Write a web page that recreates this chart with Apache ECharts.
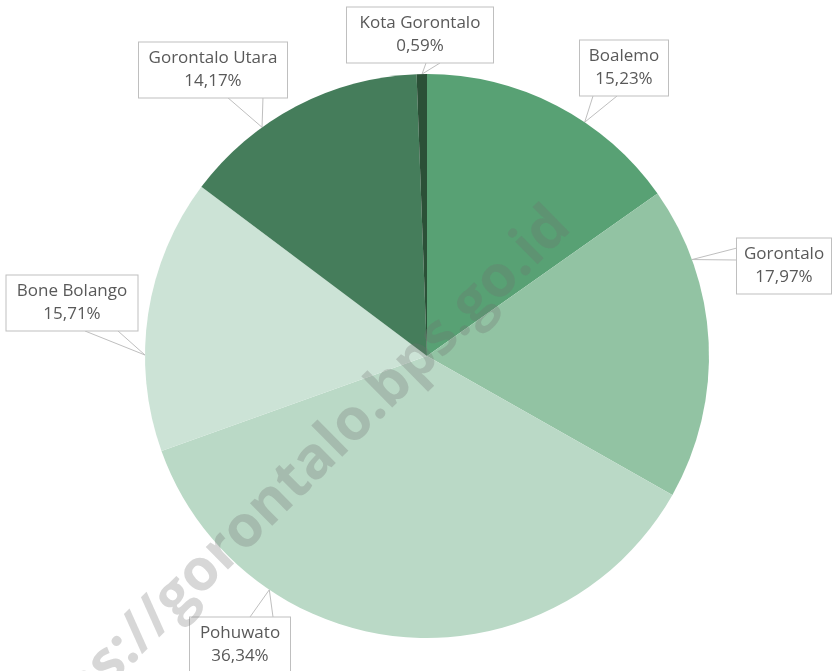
<!DOCTYPE html>
<html>
<head>
<meta charset="utf-8">
<script src="https://cdn.jsdelivr.net/npm/echarts@6/dist/echarts.min.js"></script>
<style>
  html, body { margin: 0; padding: 0; background: #fff; }
  #chart { width: 832px; height: 671px; }
</style>
</head>
<body>
<div id="chart"></div>
<script>
// kabupaten / kota, clockwise from 12 o'clock
const regions = ["Boalemo", "Gorontalo", "Pohuwato", "Bone Bolango", "Gorontalo Utara", "Kota Gorontalo"];
const shares = [15.23, 17.97, 36.34, 15.71, 14.17, 0.59];
const sliceColors = ["#58a174", "#92c3a3", "#bad9c6", "#cce3d6", "#457d5b", "#2b5037"];

const watermark = "https://gorontalo.bps.go.id";

// callout layout: box centre, inner text width, angle of the pointer tip on the rim, wedge base on the box edge
const pieCenter = [427, 356];
const pieRadius = 282;
const callouts = [
  { box: [624, 68], w: 76, tipAngle: 56, base: [[593, 96], [617, 96]] },
  { box: [784, 266], w: 82, tipAngle: 20, base: [[737, 248], [737, 260]] },
  { box: [240, 645], w: 88, tipAngle: 236, base: [[250, 617], [273, 617]] },
  { box: [72, 303], w: 119, tipAngle: 179.8, base: [[85, 331], [118, 331]] },
  { box: [213, 70], w: 136, tipAngle: 125.8, base: [[227, 97], [263, 97]] },
  { box: [420, 35], w: 134, tipAngle: 91, base: [[426, 63], [440, 63]] },
];

const myChart = echarts.init(document.getElementById("chart"));

const fmt = (v) => v.toFixed(2).replace(".", ",") + "%";

const tipPoint = (deg) => {
  const a = (deg * Math.PI) / 180;
  return [pieCenter[0] + pieRadius * Math.cos(a), pieCenter[1] - pieRadius * Math.sin(a)];
};

myChart.setOption({
  animation: false,
  backgroundColor: "#ffffff",
  graphic: [
    {
      type: "text",
      x: 285,
      y: 490,
      rotation: (44.6 * Math.PI) / 180,
      z: 100,
      silent: true,
      style: {
        text: watermark,
        fontFamily: "Open Sans",
        fontWeight: "bold",
        fontSize: 58,
        fill: "rgba(110,110,110,0.28)",
        align: "center",
        verticalAlign: "middle",
      },
    },
  ],
  series: [
    {
      type: "pie",
      center: pieCenter,
      radius: pieRadius,
      startAngle: 90,
      clockwise: true,
      data: regions.map((name, i) => ({
        name,
        value: shares[i],
        itemStyle: { color: sliceColors[i] },
        label: { width: callouts[i].w },
      })),
      itemStyle: { borderWidth: 0 },
      label: {
        show: true,
        formatter: (p) => p.name + "\n" + fmt(p.value),
        fontFamily: "Open Sans",
        fontSize: 17,
        lineHeight: 23,
        color: "#595959",
        align: "center",
        overflow: "none",
        backgroundColor: "#ffffff",
        borderColor: "#bfbfbf",
        borderWidth: 1,
        padding: [5, 6, 4, 6],
      },
      labelLine: {
        show: true,
        length: 10,
        length2: 10,
        lineStyle: { color: "#bfbfbf", width: 1 },
      },
      labelLayout: (params) => {
        const c = callouts[params.dataIndex];
        return {
          x: c.box[0],
          y: c.box[1],
          align: "center",
          verticalAlign: "middle",
          labelLinePoints: [c.base[0], tipPoint(c.tipAngle), c.base[1]],
        };
      },
    },
  ],
});
</script>
</body>
</html>
